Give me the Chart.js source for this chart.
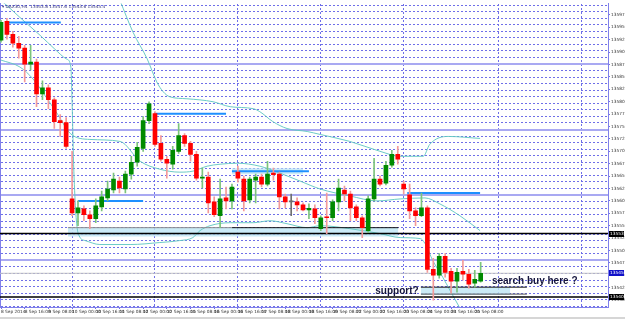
<!DOCTYPE html>
<html>
<head>
<meta charset="utf-8">
<script src="https://cdn.jsdelivr.net/npm/chart.js@4.4.1/dist/chart.umd.min.js"></script>
<style>
  body { margin: 0; background: #d6d6d6; }
  canvas { display: block; background: #fff; }
</style>
</head>
<body>
<canvas id="chart" width="625" height="317"></canvas>
<script>
const symbolTitle = "\u25BE DAX30,H4  13543.8 13547.6 13543.6 13545.4";

// one label every 4 candles (H4)
const candlesPerLabel = 4;
const timeLabels = ["8 Sep 2014", "8 Sep 16:00", "9 Sep 08:00", "10 Sep 00:00", "10 Sep 16:00",
  "11 Sep 08:00", "12 Sep 00:00", "12 Sep 16:00", "15 Sep 08:00", "16 Sep 00:00", "16 Sep 16:00",
  "17 Sep 08:00", "18 Sep 00:00", "18 Sep 16:00", "19 Sep 08:00", "22 Sep 00:00", "22 Sep 16:00",
  "23 Sep 08:00", "24 Sep 00:00", "24 Sep 16:00", "25 Sep 08:00"];

const openPrices = [
  13592.4, 13596.2, 13593.6, 13591.8, 13590.8, 13587.6, 13588.0, 13581.6, 13582.8, 13580.4,
  13576.2, 13575.8, 13560.4, 13557.6, 13558.4, 13557.2, 13556.4, 13558.8, 13560.6, 13562.2,
  13564.0, 13562.4, 13565.4, 13567.8, 13570.6, 13576.2, 13577.6, 13571.6, 13568.4, 13567.4,
  13570.0, 13573.2, 13571.6, 13569.4, 13564.6, 13564.8, 13559.8, 13557.0, 13560.6, 13560.0,
  13565.8, 13564.4, 13560.2, 13564.2, 13564.8, 13563.4, 13565.6, 13565.4, 13560.8, 13559.8,
  13559.8, 13559.2, 13558.2, 13558.4, 13554.4, 13556.8, 13556.6, 13559.8, 13562.2, 13561.4,
  13558.8, 13556.6, 13554.0, 13560.4, 13564.4, 13563.6, 13567.2, 13569.4, 13563.4, 13561.2,
  13558.0, 13557.0, 13558.6, 13546.2, 13545.0, 13548.8, 13545.8, 13543.8, 13545.8, 13545.2,
  13543.4, 13543.8];
const highPrices = [
  13596.4, 13596.8, 13594.2, 13593.2, 13591.4, 13591.4, 13588.6, 13584.2, 13583.4, 13580.8,
  13577.4, 13576.8, 13570.0, 13560.0, 13559.0, 13558.0, 13560.4, 13562.0, 13564.0, 13565.6,
  13564.8, 13566.0, 13569.0, 13571.8, 13577.0, 13580.0, 13578.0, 13573.2, 13569.0, 13571.0,
  13575.6, 13573.6, 13572.0, 13570.0, 13566.6, 13565.8, 13560.8, 13564.4, 13562.8, 13563.4,
  13567.0, 13565.0, 13564.8, 13565.4, 13565.4, 13568.0, 13566.6, 13565.8, 13561.4, 13561.4,
  13560.6, 13559.6, 13559.4, 13559.2, 13557.0, 13561.6, 13560.2, 13564.4, 13563.0, 13562.0,
  13559.2, 13557.0, 13561.0, 13568.6, 13565.0, 13568.0, 13570.2, 13571.0, 13564.0, 13563.4,
  13558.6, 13561.6, 13559.0, 13548.4, 13549.4, 13549.4, 13546.4, 13546.4, 13548.0, 13546.2,
  13546.0, 13547.6];
const lowPrices = [
  13592.0, 13592.6, 13591.0, 13588.8, 13584.0, 13586.4, 13579.0, 13580.4, 13578.6, 13574.6,
  13573.0, 13570.6, 13557.0, 13555.0, 13556.0, 13554.4, 13555.6, 13558.0, 13560.0, 13561.6,
  13561.6, 13561.6, 13564.4, 13567.0, 13570.0, 13575.6, 13571.0, 13568.0, 13564.6, 13566.4,
  13569.6, 13571.0, 13568.0, 13564.2, 13562.6, 13557.6, 13556.8, 13554.6, 13558.4, 13558.4,
  13563.8, 13558.0, 13559.6, 13559.6, 13562.8, 13563.0, 13564.2, 13558.4, 13558.6, 13557.0,
  13558.0, 13558.0, 13556.4, 13555.4, 13554.0, 13553.4, 13556.0, 13558.0, 13560.0, 13556.0,
  13556.0, 13552.6, 13553.6, 13560.0, 13563.0, 13563.2, 13566.8, 13567.4, 13561.4, 13556.4,
  13555.0, 13556.8, 13545.6, 13540.0, 13544.4, 13544.6, 13541.4, 13541.6, 13544.0, 13542.4,
  13542.6, 13543.6];
const closePrices = [
  13596.0, 13593.6, 13591.8, 13590.8, 13587.6, 13588.0, 13581.6, 13582.8, 13580.4, 13576.0,
  13575.8, 13571.0, 13557.6, 13558.6, 13557.2, 13556.4, 13559.0, 13560.8, 13562.4, 13564.4,
  13562.6, 13565.4, 13567.8, 13570.8, 13576.2, 13579.6, 13571.4, 13568.4, 13567.6, 13570.2,
  13573.2, 13571.6, 13569.4, 13564.6, 13564.8, 13559.6, 13557.2, 13560.4, 13560.0, 13562.8,
  13564.6, 13560.0, 13564.4, 13564.8, 13563.4, 13565.4, 13565.3, 13560.8, 13559.8, 13559.8,
  13559.2, 13558.2, 13558.5, 13556.6, 13556.6, 13556.6, 13559.8, 13562.6, 13561.4, 13558.6,
  13556.6, 13554.6, 13560.4, 13564.4, 13563.4, 13567.2, 13569.4, 13568.4, 13562.4, 13558.0,
  13557.0, 13558.6, 13546.2, 13545.0, 13548.8, 13545.6, 13543.8, 13545.6, 13545.2, 13543.2,
  13544.2, 13545.4];

// bollinger-like bands, read as [candle index, price]
const upperBand = [[20.1, 13600.4], [22.3, 13594.0], [24.7, 13588.6], [26.3, 13584.0], [27.4, 13582.0],
  [28.5, 13581.0], [31.4, 13580.6], [35.8, 13580.0], [38.7, 13579.0], [42.6, 13578.6], [43.7, 13578.0],
  [45.9, 13576.0], [48.3, 13574.6], [51.7, 13574.0], [53.9, 13573.4], [58.9, 13572.0], [64.0, 13570.0],
  [67.4, 13569.0], [71.3, 13569.0], [72.4, 13571.4], [75.5, 13573.0], [80.9, 13572.6]];
const middleBand = [[0, 13588.4], [3.2, 13587.0], [5.4, 13584.6], [7.8, 13580.6], [9.6, 13577.4],
  [11.7, 13573.6], [15.0, 13572.4], [20.1, 13572.0], [23.5, 13568.0], [26.8, 13566.4], [30.2, 13565.8],
  [32.4, 13566.0], [34.8, 13567.0], [37.0, 13567.4], [39.9, 13567.6], [43.7, 13567.0], [47.1, 13565.6],
  [50.5, 13564.0], [53.9, 13562.4], [58.9, 13561.0], [63.5, 13560.0], [67.4, 13560.4], [71.6, 13560.6],
  [74.1, 13559.4], [77.5, 13557.0], [80.9, 13554.0]];
const lowerBand = [[0, 13600.4], [1.0, 13599.4], [3.2, 13597.0], [6.6, 13593.4], [9.1, 13590.6],
  [11.1, 13588.6], [11.8, 13587.0], [12.0, 13580.0], [12.3, 13566.0], [13.0, 13553.6], [14.2, 13552.0],
  [16.7, 13551.2], [21.8, 13551.2], [26.8, 13551.6], [30.2, 13552.0], [32.4, 13552.6], [33.6, 13554.0],
  [35.3, 13555.0], [38.7, 13555.6], [42.6, 13555.6], [45.4, 13556.0], [48.3, 13555.4], [51.7, 13554.6],
  [53.9, 13555.0], [58.9, 13554.4], [64.0, 13553.4], [67.4, 13552.6], [70.8, 13552.4], [71.6, 13551.4],
  [72.9, 13548.0], [74.6, 13544.6], [75.8, 13542.0], [77.2, 13539.0], [78.4, 13536.4]];

// drawn levels: [from index, to index, price]
const blueLevels = [[0.7, 10.1, 13596.0], [26.0, 38.0, 13577.6], [13.0, 24.0, 13560.0],
  [39.0, 52.0, 13566.0], [68.6, 80.9, 13561.6]];
// shaded zones: [from index, to index, top price, bottom price]
const zones = [[39.0, 51.0, 13566.6, 13565.4], [11.3, 67.1, 13554.6, 13552.8], [70.9, 86.0, 13542.6, 13541.0]];
const zoneEdges = [[11.3, 39.0, 13554.6, '#8a8a8a'], [39.0, 67.1, 13554.6, '#111'],
  [70.9, 88.8, 13542.6, '#111'], [70.9, 88.8, 13541.2, '#555']];
const blackLevels = [13553.4, 13540.6];
const bidPrice = closePrices[closePrices.length - 1];

const notes = [
  { text: "support?", at: 63.2, price: 13541.2 },
  { text: "search buy here ?", at: 82.9, price: 13543.2 }
];
const priceTags = [
  { price: blackLevels[0], color: '#000' },
  { price: bidPrice, color: '#1010c8' },
  { price: blackLevels[1], color: '#000' }
];

const dayBreaks = [12, 26, 40, 54, 68, 84, 98];

const yMin = 13538.6, yMax = 13599.8;
const xMin = -0.17, xMax = 102.5;
const gridBase = 13548.0, gridStep = 1.32;

const idx = openPrices.map((_, i) => i);
const dir = i => closePrices[i] > openPrices[i] ? 1 : (closePrices[i] < openPrices[i] ? -1 : 0);
const bodyColor = idx.map(i => dir(i) > 0 ? '#008a00' : dir(i) < 0 ? '#ff0000' : '#707070');
const wickColor = idx.map(i => dir(i) > 0 ? '#7cc47c' : dir(i) < 0 ? '#f39a9a' : '#707070');

function seg(x1, x2, price, color, width, order) {
  return {
    type: 'line', data: [{ x: x1, y: price }, { x: x2, y: price }],
    borderColor: color, borderWidth: width, pointRadius: 0, order: order
  };
}

function band(points) {
  return {
    type: 'line', data: points.map(p => ({ x: p[0], y: p[1] })),
    borderColor: 'rgba(100,200,195,0.95)', borderWidth: 1, pointRadius: 0,
    cubicInterpolationMode: 'monotone', order: 4
  };
}

const datasets = [
  {
    type: 'bar', data: idx.map(i => ({ x: i, y: [openPrices[i], closePrices[i]] })),
    backgroundColor: bodyColor, barThickness: 4, minBarLength: 1, grouped: false, order: 0
  },
  {
    type: 'bar', data: idx.map(i => ({ x: i, y: [lowPrices[i], highPrices[i]] })),
    backgroundColor: wickColor, barThickness: 1, grouped: false, order: 1
  },
  band(upperBand), band(middleBand), band(lowerBand)
];

blueLevels.forEach(l => datasets.push(seg(l[0], l[1], l[2], '#1e90ff', 2, 2)));
zoneEdges.forEach(l => datasets.push(seg(l[0], l[1], l[2], l[3], 1, 3)));
blackLevels.forEach(p => datasets.push(seg(-1, 104, p, '#000', 1.5, 3)));
datasets.push(seg(-1, 104, bidPrice, '#c4c4c4', 1, 5));
zones.forEach(z => datasets.push({
  type: 'line', data: [{ x: z[0], y: z[2] }, { x: z[1], y: z[2] }],
  borderWidth: 0, pointRadius: 0, fill: { value: z[3] },
  backgroundColor: 'rgba(190,230,245,0.8)', order: 6
}));

const overlay = {
  id: 'overlay',
  afterDraw(chart) {
    const { ctx, chartArea, scales } = chart;
    const x = scales.x, y = scales.y;
    ctx.save();
    ctx.font = '4.3px "DejaVu Sans"';
    ctx.fillStyle = '#30307a';
    ctx.textBaseline = 'middle';
    ctx.fillText(symbolTitle, chartArea.left + 2, chartArea.top + 3.5);

    ctx.font = 'bold 10px "Liberation Sans"';
    ctx.fillStyle = '#15153d';
    ctx.textBaseline = 'alphabetic';
    notes.forEach(n => ctx.fillText(n.text, x.getPixelForValue(n.at), y.getPixelForValue(n.price)));

    ctx.font = '4.3px "DejaVu Sans"';
    ctx.textBaseline = 'middle';
    priceTags.forEach(t => {
      const py = Math.round(y.getPixelForValue(t.price));
      ctx.fillStyle = t.color;
      ctx.fillRect(chartArea.right + 1, py - 3, 15, 6);
      ctx.fillStyle = '#fff';
      ctx.fillText(t.price.toFixed(1), chartArea.right + 2, py);
    });
    ctx.restore();
  }
};

const gridBlue = '#6f6fe8';
const isMajor = v => Math.round((v - gridBase) / gridStep) % 10 === 0;

new Chart(document.getElementById('chart'), {
  type: 'bar',
  data: { datasets: datasets },
  plugins: [overlay],
  options: {
    responsive: false,
    animation: false,
    devicePixelRatio: 1,
    layout: { padding: 0 },
    plugins: { legend: { display: false }, tooltip: { enabled: false } },
    scales: {
      x: {
        type: 'linear', position: 'bottom', min: xMin, max: xMax, offset: false,
        afterBuildTicks: s => { s.ticks = timeLabels.map((_, i) => ({ value: i * candlesPerLabel })); },
        afterFit: s => { s.height = 10; },
        ticks: {
          autoSkip: false, maxRotation: 0, minRotation: 0, align: 'start', padding: 0,
          color: '#333', font: { size: 4.3, family: 'DejaVu Sans' },
          callback: v => timeLabels[Math.round(v / candlesPerLabel)]
        },
        grid: { drawOnChartArea: false, offset: false, tickLength: 2, tickColor: gridBlue },
        border: { color: '#8080ea' }
      },
      xg: {
        type: 'linear', position: 'top', min: xMin, max: xMax, offset: false,
        afterBuildTicks: s => { s.ticks = dayBreaks.map(v => ({ value: v })); },
        afterFit: s => { s.height = 1; },
        ticks: { display: false },
        grid: { color: gridBlue, lineWidth: 1, drawTicks: false, offset: false },
        border: { display: false, dash: [2, 2] }
      },
      y: {
        type: 'linear', position: 'right', min: yMin, max: yMax,
        afterFit: s => { s.width = 17; },
        ticks: {
          stepSize: 2.5, includeBounds: false, padding: 1, color: '#333',
          font: { size: 4.3, family: 'DejaVu Sans' },
          callback: v => v.toFixed(1)
        },
        grid: { drawOnChartArea: false, tickLength: 2, tickColor: gridBlue },
        border: { color: '#8080ea' }
      },
      yg: {
        type: 'linear', position: 'left', min: yMin, max: yMax,
        afterBuildTicks: s => {
          const ticks = [];
          const k0 = Math.ceil((yMin - gridBase) / gridStep), k1 = Math.floor((yMax - gridBase) / gridStep);
          for (let k = k0; k <= k1; k++) ticks.push({ value: gridBase + k * gridStep });
          s.ticks = ticks;
        },
        afterFit: s => { s.width = 0; },
        ticks: { display: false },
        grid: {
          drawTicks: false,
          color: c => c.tick && isMajor(c.tick.value) ? '#a9a9f2' : gridBlue,
          lineWidth: c => c.tick && isMajor(c.tick.value) ? 2 : 1
        },
        border: {
          color: '#8080ea',
          dash: c => c.tick && !isMajor(c.tick.value) ? [2, 2] : []
        }
      }
    }
  }
});
</script>
</body>
</html>
